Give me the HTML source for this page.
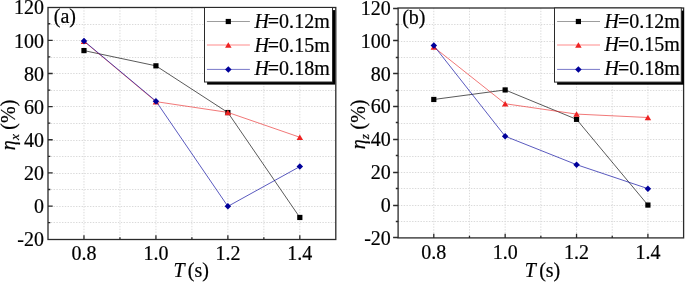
<!DOCTYPE html>
<html><head><meta charset="utf-8"><style>
html,body{margin:0;padding:0;background:#fff;}
body{width:685px;height:282px;overflow:hidden;}
svg{display:block;will-change:transform;}
text{font-family:"Liberation Serif", serif;font-size:20px;fill:#000;stroke:#000;stroke-width:0.2px;}
</style></head><body>
<svg width="685" height="282" viewBox="0 0 685 282">
<rect width="685" height="282" fill="#fff"/>
<path d="M83.97 7.50V239.50 M119.95 7.50V239.50 M155.93 7.50V239.50 M191.90 7.50V239.50 M227.88 7.50V239.50 M263.85 7.50V239.50 M299.82 7.50V239.50 M48.00 222.50H335.80 M48.00 206.50H335.80 M48.00 189.50H335.80 M48.00 173.50H335.80 M48.00 156.50H335.80 M48.00 140.50H335.80 M48.00 123.50H335.80 M48.00 106.50H335.80 M48.00 90.50H335.80 M48.00 73.50H335.80 M48.00 57.50H335.80 M48.00 40.50H335.80 M48.00 24.50H335.80" stroke="#dadada" stroke-width="1" stroke-dasharray="1.4 1.4" fill="none"/>
<path d="M83.97 239.50V235.30 M119.95 239.50V237.30 M155.93 239.50V235.30 M191.90 239.50V237.30 M227.88 239.50V235.30 M263.85 239.50V237.30 M299.82 239.50V235.30 M48.00 222.63H50.30 M48.00 206.06H52.70 M48.00 189.49H50.30 M48.00 172.91H52.70 M48.00 156.34H50.30 M48.00 139.77H52.70 M48.00 123.20H50.30 M48.00 106.63H52.70 M48.00 90.06H50.30 M48.00 73.49H52.70 M48.00 56.91H50.30 M48.00 40.34H52.70 M48.00 23.77H50.30" stroke="#2a2a2a" stroke-width="1.3" fill="none"/>
<polyline points="83.98,50.59 155.93,65.83 227.88,112.56 299.82,217.46" stroke="#000" stroke-width="0.65" fill="none"/>
<rect x="81.38" y="47.99" width="5.2" height="5.2" fill="#000"/>
<rect x="153.33" y="63.23" width="5.2" height="5.2" fill="#000"/>
<rect x="225.28" y="109.96" width="5.2" height="5.2" fill="#000"/>
<rect x="297.22" y="214.86" width="5.2" height="5.2" fill="#000"/>
<polyline points="83.98,41.31 155.93,101.63 227.88,112.40 299.82,137.25" stroke="#e81c1c" stroke-width="0.6" fill="none"/>
<polygon points="83.98,38.56 87.23,44.06 80.73,44.06" fill="#ee2222"/>
<polygon points="155.93,98.88 159.18,104.38 152.68,104.38" fill="#ee2222"/>
<polygon points="227.88,109.65 231.12,115.15 224.62,115.15" fill="#ee2222"/>
<polygon points="299.82,134.50 303.07,140.00 296.57,140.00" fill="#ee2222"/>
<polyline points="83.98,40.97 155.93,101.13 227.88,206.36 299.82,166.59" stroke="#00009c" stroke-width="0.65" fill="none"/>
<polygon points="83.98,37.72 87.23,40.97 83.98,44.22 80.73,40.97" fill="#00009a"/>
<polygon points="155.93,97.88 159.18,101.13 155.93,104.38 152.68,101.13" fill="#00009a"/>
<polygon points="227.88,203.11 231.12,206.36 227.88,209.61 224.62,206.36" fill="#00009a"/>
<polygon points="299.82,163.34 303.07,166.59 299.82,169.84 296.57,166.59" fill="#00009a"/>
<rect x="48.00" y="7.50" width="287.80" height="232.00" stroke="#2a2a2a" stroke-width="1.3" fill="none"/>
<rect x="207.10" y="10.10" width="128.00" height="74.50" fill="#000"/>
<rect x="204.50" y="7.50" width="128.00" height="74.50" fill="#fff" stroke="#2a2a2a" stroke-width="1"/>
<path d="M206.90 21.50H249.90" stroke="#000" stroke-width="1.0" opacity="0.38"/>
<rect x="225.70" y="18.90" width="5.2" height="5.2" fill="#000"/>
<text x="254.40" y="27.90"><tspan font-style="italic">H</tspan><tspan dx="-1">=0.</tspan><tspan>12m</tspan></text>
<path d="M206.90 44.95H249.90" stroke="#ff0000" stroke-width="1.4" opacity="0.3"/>
<polygon points="228.30,42.20 231.55,47.70 225.05,47.70" fill="#ee2222"/>
<text x="254.40" y="51.50"><tspan font-style="italic">H</tspan><tspan dx="-1">=0.</tspan><tspan>15m</tspan></text>
<path d="M206.90 69.40H249.90" stroke="#000099" stroke-width="1.0" opacity="0.53"/>
<polygon points="228.30,66.15 231.55,69.40 228.30,72.65 225.05,69.40" fill="#00009a"/>
<text x="254.40" y="75.20"><tspan font-style="italic">H</tspan><tspan dx="-1">=0.</tspan><tspan>18m</tspan></text>
<text x="83.98" y="259.60" text-anchor="middle">0.8</text>
<text x="155.93" y="259.60" text-anchor="middle">1.0</text>
<text x="227.88" y="259.60" text-anchor="middle">1.2</text>
<text x="299.82" y="259.60" text-anchor="middle">1.4</text>
<text x="43.90" y="246.40" text-anchor="end">-20</text>
<text x="43.90" y="213.26" text-anchor="end">0</text>
<text x="43.90" y="180.11" text-anchor="end">20</text>
<text x="43.90" y="146.97" text-anchor="end">40</text>
<text x="43.90" y="113.83" text-anchor="end">60</text>
<text x="43.90" y="80.69" text-anchor="end">80</text>
<text x="43.90" y="47.54" text-anchor="end">100</text>
<text x="43.90" y="14.40" text-anchor="end">120</text>
<text x="53.80" y="23.30">(a)</text>
<text x="173.50" y="277.3"><tspan font-style="italic">T</tspan><tspan dx="-1.8"> (s)</tspan></text>
<text transform="translate(15.00 125.00) rotate(-90)" text-anchor="middle"><tspan font-style="italic">η</tspan><tspan font-style="italic" font-size="13.5" dx="0.3" dy="4.3">x</tspan><tspan dy="-4.3" dx="-0.6"> (%)</tspan></text>
<path d="M433.79 8.00V237.90 M469.48 8.00V237.90 M505.16 8.00V237.90 M540.85 8.00V237.90 M576.54 8.00V237.90 M612.23 8.00V237.90 M647.91 8.00V237.90 M398.10 221.50H683.60 M398.10 205.50H683.60 M398.10 188.50H683.60 M398.10 172.50H683.60 M398.10 156.50H683.60 M398.10 139.50H683.60 M398.10 123.50H683.60 M398.10 106.50H683.60 M398.10 90.50H683.60 M398.10 73.50H683.60 M398.10 57.50H683.60 M398.10 41.50H683.60 M398.10 24.50H683.60" stroke="#dadada" stroke-width="1" stroke-dasharray="1.4 1.4" fill="none"/>
<path d="M433.79 237.90V233.70 M469.48 237.90V235.70 M505.16 237.90V233.70 M540.85 237.90V235.70 M576.54 237.90V233.70 M612.23 237.90V235.70 M647.91 237.90V233.70 M398.10 237.50H393.10 M398.10 221.50H395.80 M398.10 205.50H393.10 M398.10 188.50H395.80 M398.10 172.50H393.10 M398.10 155.50H395.80 M398.10 139.50H393.10 M398.10 122.50H395.80 M398.10 106.50H393.10 M398.10 90.50H395.80 M398.10 73.50H393.10 M398.10 57.50H395.80 M398.10 40.50H393.10 M398.10 24.50H395.80 M398.10 8.50H393.10" stroke="#2a2a2a" stroke-width="1.3" fill="none"/>
<polyline points="433.79,99.47 505.16,89.94 576.54,119.34 647.91,205.06" stroke="#000" stroke-width="0.65" fill="none"/>
<rect x="431.19" y="96.87" width="5.2" height="5.2" fill="#000"/>
<rect x="502.56" y="87.34" width="5.2" height="5.2" fill="#000"/>
<rect x="573.94" y="116.74" width="5.2" height="5.2" fill="#000"/>
<rect x="645.31" y="202.46" width="5.2" height="5.2" fill="#000"/>
<polyline points="433.79,47.08 505.16,103.74 576.54,114.08 647.91,117.53" stroke="#e81c1c" stroke-width="0.6" fill="none"/>
<polygon points="433.79,44.33 437.04,49.83 430.54,49.83" fill="#ee2222"/>
<polygon points="505.16,100.99 508.41,106.49 501.91,106.49" fill="#ee2222"/>
<polygon points="576.54,111.33 579.79,116.83 573.29,116.83" fill="#ee2222"/>
<polygon points="647.91,114.78 651.16,120.28 644.66,120.28" fill="#ee2222"/>
<polyline points="433.79,45.61 505.16,136.25 576.54,164.66 647.91,188.64" stroke="#00009c" stroke-width="0.65" fill="none"/>
<polygon points="433.79,42.36 437.04,45.61 433.79,48.86 430.54,45.61" fill="#00009a"/>
<polygon points="505.16,133.00 508.41,136.25 505.16,139.50 501.91,136.25" fill="#00009a"/>
<polygon points="576.54,161.41 579.79,164.66 576.54,167.91 573.29,164.66" fill="#00009a"/>
<polygon points="647.91,185.39 651.16,188.64 647.91,191.89 644.66,188.64" fill="#00009a"/>
<rect x="398.10" y="8.00" width="285.50" height="229.90" stroke="#2a2a2a" stroke-width="1.3" fill="none"/>
<rect x="557.10" y="10.60" width="126.80" height="74.10" fill="#000"/>
<rect x="554.50" y="8.00" width="126.80" height="74.10" fill="#fff" stroke="#2a2a2a" stroke-width="1"/>
<path d="M557.10 21.50H600.00" stroke="#000" stroke-width="1.0" opacity="0.38"/>
<rect x="575.80" y="18.90" width="5.2" height="5.2" fill="#000"/>
<text x="604.50" y="27.80"><tspan font-style="italic">H</tspan><tspan dx="-1">=0.</tspan><tspan>12m</tspan></text>
<path d="M557.10 44.95H600.00" stroke="#ff0000" stroke-width="1.4" opacity="0.3"/>
<polygon points="578.40,42.20 581.65,47.70 575.15,47.70" fill="#ee2222"/>
<text x="604.50" y="51.30"><tspan font-style="italic">H</tspan><tspan dx="-1">=0.</tspan><tspan>15m</tspan></text>
<path d="M557.10 69.40H600.00" stroke="#000099" stroke-width="1.0" opacity="0.53"/>
<polygon points="578.40,66.15 581.65,69.40 578.40,72.65 575.15,69.40" fill="#00009a"/>
<text x="604.50" y="74.80"><tspan font-style="italic">H</tspan><tspan dx="-1">=0.</tspan><tspan>18m</tspan></text>
<text x="433.79" y="259.20" text-anchor="middle">0.8</text>
<text x="505.16" y="259.20" text-anchor="middle">1.0</text>
<text x="576.54" y="259.20" text-anchor="middle">1.2</text>
<text x="647.91" y="259.20" text-anchor="middle">1.4</text>
<text x="390.80" y="244.80" text-anchor="end">-20</text>
<text x="390.80" y="211.96" text-anchor="end">0</text>
<text x="390.80" y="179.11" text-anchor="end">20</text>
<text x="390.80" y="146.27" text-anchor="end">40</text>
<text x="390.80" y="113.43" text-anchor="end">60</text>
<text x="390.80" y="80.59" text-anchor="end">80</text>
<text x="390.80" y="47.74" text-anchor="end">100</text>
<text x="390.80" y="14.90" text-anchor="end">120</text>
<text x="402.20" y="23.60">(b)</text>
<text x="524.80" y="277.3"><tspan font-style="italic">T</tspan><tspan dx="-1.8"> (s)</tspan></text>
<text transform="translate(365.00 124.45) rotate(-90)" text-anchor="middle"><tspan font-style="italic">η</tspan><tspan font-style="italic" font-size="13.5" dx="0.3" dy="4.3">z</tspan><tspan dy="-4.3" dx="-0.6"> (%)</tspan></text>
</svg>
</body></html>
